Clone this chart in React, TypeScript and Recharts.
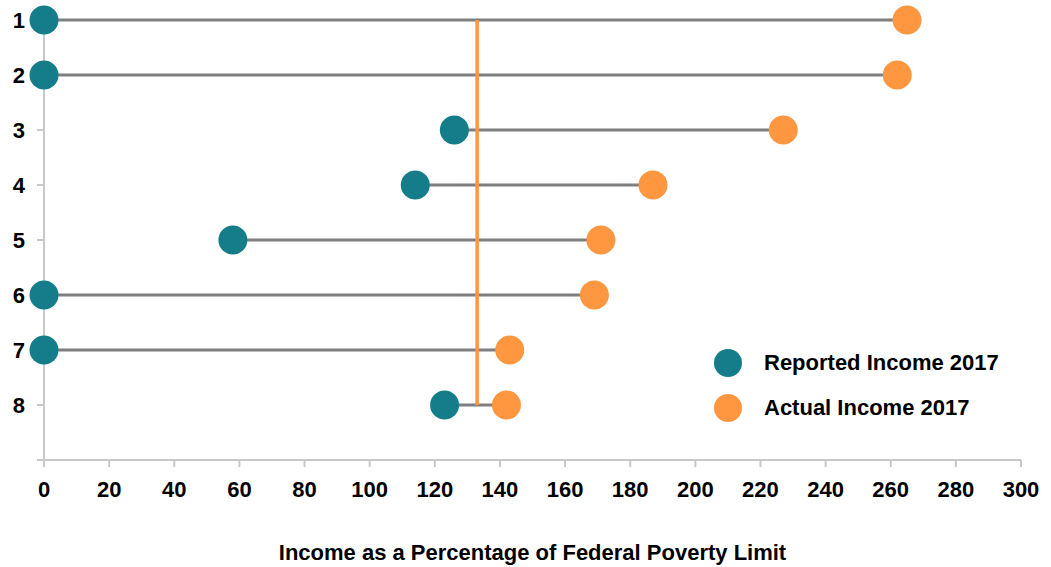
import React from 'react';
import { ComposedChart, Scatter, XAxis, YAxis, ReferenceLine, Label } from 'recharts';

const rows = [1, 2, 3, 4, 5, 6, 7, 8];
const reported = [0, 0, 126, 114, 58, 0, 0, 123];
const actual = [265, 262, 227, 187, 171, 169, 143, 142];
const xTicks = [0, 20, 40, 60, 80, 100, 120, 140, 160, 180, 200, 220, 240, 260, 280, 300];
const yTicks = [1, 2, 3, 4, 5, 6, 7, 8, 9];
const povertyLine = 133;

const TEAL = '#157D8A';
const ORANGE = '#FF9640';
const FONT = '"Liberation Sans Narrow", "Arial Narrow", "Liberation Sans", Arial, sans-serif';

const reportedData = rows.map((r, i) => ({ x: reported[i], y: r }));
const actualData = rows.map((r, i) => ({ x: actual[i], y: r }));

const Dot = (color: string) => (props: any) => (
  <circle cx={props.cx} cy={props.cy} r={14.5} fill={color} />
);

export default function App() {
  return (
    <div style={{ position: 'absolute', left: 0, top: 0, fontFamily: FONT }}>
      <ComposedChart width={1051} height={567} margin={{ top: 20, right: 30, bottom: 0, left: 0 }}>
        <XAxis
          type="number"
          dataKey="x"
          domain={[0, 300]}
          ticks={xTicks}
          interval={0}
          height={107}
          stroke="#c8c8c8"
          strokeWidth={2}
          tickSize={7}
          tickMargin={14}
          tick={{ fill: '#000', fontSize: 22, fontWeight: 'bold', fontFamily: FONT }}
        >
          <Label
            value="Income as a Percentage of Federal Poverty Limit"
            position="insideBottom"
            offset={7}
            style={{ fill: '#000', fontSize: 22, fontWeight: 'bold', fontFamily: FONT }}
          />
        </XAxis>
        <YAxis
          type="number"
          dataKey="y"
          domain={[1, 9]}
          reversed
          ticks={yTicks}
          interval={0}
          width={44}
          stroke="#c8c8c8"
          strokeWidth={2}
          tickSize={7}
          tickMargin={12}
          tickFormatter={(v: number) => (v === 9 ? '' : String(v))}
          tick={{ fill: '#000', fontSize: 22, fontWeight: 'bold', fontFamily: FONT }}
        />
        {rows.map((r, i) => (
          <ReferenceLine
            key={'c' + r}
            segment={[{ x: reported[i], y: r }, { x: actual[i], y: r }]}
            stroke="#7f7f7f"
            strokeWidth={3}
          />
        ))}
        <ReferenceLine
          segment={[{ x: povertyLine, y: rows[0] }, { x: povertyLine, y: rows[rows.length - 1] }]}
          stroke={ORANGE}
          strokeWidth={3.5}
        />
        <Scatter name="Reported Income 2017" data={reportedData} fill={TEAL} shape={Dot(TEAL)} isAnimationActive={false} />
        <Scatter name="Actual Income 2017" data={actualData} fill={ORANGE} shape={Dot(ORANGE)} isAnimationActive={false} />
      </ComposedChart>
      <div style={{ position: 'absolute', left: 714, top: 340, fontWeight: 'bold', fontSize: 22, color: '#000' }}>
        {[
          { name: 'Reported Income 2017', color: TEAL },
          { name: 'Actual Income 2017', color: ORANGE },
        ].map((it) => (
          <div key={it.name} style={{ display: 'flex', alignItems: 'center', height: 45 }}>
            <span style={{ width: 28, height: 28, borderRadius: 14, background: it.color, display: 'inline-block', marginRight: 22 }} />
            <span>{it.name}</span>
          </div>
        ))}
      </div>
    </div>
  );
}
